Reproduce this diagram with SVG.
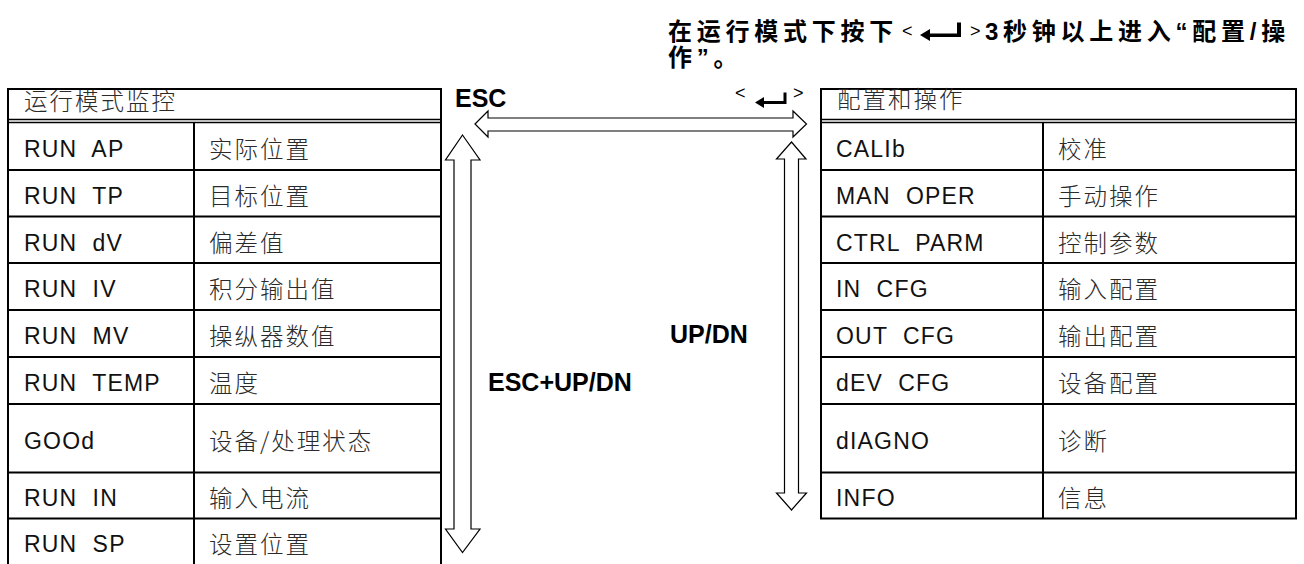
<svg xmlns="http://www.w3.org/2000/svg" width="1304" height="564" viewBox="0 0 1304 564">
<style>
  .t { font-family: "Liberation Sans", "Noto Sans CJK SC", sans-serif; font-size: 23px; letter-spacing: 1.2px; fill: #111; white-space: pre; }
  .c { font-family: "Noto Sans CJK SC", "Liberation Sans", sans-serif; font-size: 23.5px; letter-spacing: 2px; fill: #2a2a2a; font-weight: 300; }
  .b { font-family: "Liberation Sans", "Noto Sans CJK SC", sans-serif; font-size: 25px; font-weight: bold; fill: #000; }
  .bt { font-family: "Liberation Sans", "Noto Sans CJK SC", sans-serif; font-size: 24px; font-weight: bold; fill: #000; letter-spacing: 4.75px; }
  .sm { font-family: "Liberation Sans", sans-serif; font-size: 18px; font-weight: normal; fill: #000; letter-spacing: 0; }
  .key { fill: #000; stroke: none; }
  .ln { stroke: #000; stroke-width: 2; fill: none; }
  .dl { stroke: #000; stroke-width: 1.5; fill: none; }
  .arrow { fill: #fff; stroke: #000; stroke-width: 1.2; stroke-linejoin: miter; }
</style>

<g id="title">
  <text class="bt" x="668" y="40">在运行模式下按下</text>
  <text class="sm" x="902" y="37">&lt;</text>
  <path class="key" d="M920,35 L930,29 L930,33.5 L957,33.5 L957,22.5 L961,22.5 L961,37 L930,37 L930,41 Z"/>
  <text class="sm" x="970" y="37">&gt;</text>
  <text class="bt" x="985" y="40">3秒钟以上进入“配置/操</text>
  <text class="bt" x="668" y="66">作”。</text>
</g>

<g id="left-table">
  <rect class="ln" x="8" y="89" width="433" height="480"/>
  <line class="dl" x1="8" y1="119.5" x2="441" y2="119.5"/>
  <line class="dl" x1="8" y1="122.5" x2="441" y2="122.5"/>
  <line class="ln" x1="194" y1="122.5" x2="194" y2="569"/>
  <line class="ln" x1="8" y1="170" x2="441" y2="170"/>
  <line class="ln" x1="8" y1="216.5" x2="441" y2="216.5"/>
  <line class="ln" x1="8" y1="263" x2="441" y2="263"/>
  <line class="ln" x1="8" y1="310" x2="441" y2="310"/>
  <line class="ln" x1="8" y1="357" x2="441" y2="357"/>
  <line class="ln" x1="8" y1="404" x2="441" y2="404"/>
  <line class="ln" x1="8" y1="472.5" x2="441" y2="472.5"/>
  <line class="ln" x1="8" y1="518.5" x2="441" y2="518.5"/>
  <text class="c" x="24" y="110">运行模式监控</text>
  <text class="t" x="24" y="157">RUN  AP</text><text class="c" x="209" y="158">实际位置</text>
  <text class="t" x="24" y="204">RUN  TP</text><text class="c" x="209" y="205">目标位置</text>
  <text class="t" x="24" y="250.5">RUN  dV</text><text class="c" x="209" y="251.5">偏差值</text>
  <text class="t" x="24" y="297">RUN  IV</text><text class="c" x="209" y="298">积分输出值</text>
  <text class="t" x="24" y="344">RUN  MV</text><text class="c" x="209" y="345">操纵器数值</text>
  <text class="t" x="24" y="391">RUN  TEMP</text><text class="c" x="209" y="392">温度</text>
  <text class="t" x="24" y="449">GOOd</text><text class="c" x="209" y="450">设备/处理状态</text>
  <text class="t" x="24" y="506">RUN  IN</text><text class="c" x="209" y="507">输入电流</text>
  <text class="t" x="24" y="552">RUN  SP</text><text class="c" x="209" y="553">设置位置</text>
</g>

<g id="right-table">
  <rect class="ln" x="821" y="89" width="475" height="429.5"/>
  <line class="dl" x1="821" y1="119.5" x2="1296" y2="119.5"/>
  <line class="dl" x1="821" y1="122.5" x2="1296" y2="122.5"/>
  <line class="ln" x1="1043" y1="122.5" x2="1043" y2="518.5"/>
  <line class="ln" x1="821" y1="170" x2="1296" y2="170"/>
  <line class="ln" x1="821" y1="216.5" x2="1296" y2="216.5"/>
  <line class="ln" x1="821" y1="263" x2="1296" y2="263"/>
  <line class="ln" x1="821" y1="310" x2="1296" y2="310"/>
  <line class="ln" x1="821" y1="357" x2="1296" y2="357"/>
  <line class="ln" x1="821" y1="404" x2="1296" y2="404"/>
  <line class="ln" x1="821" y1="472.5" x2="1296" y2="472.5"/>
  <text class="c" x="837" y="108">配置和操作</text>
  <text class="t" x="836" y="157">CALIb</text><text class="c" x="1058" y="158">校准</text>
  <text class="t" x="836" y="204">MAN  OPER</text><text class="c" x="1058" y="205">手动操作</text>
  <text class="t" x="836" y="250.5">CTRL  PARM</text><text class="c" x="1058" y="251.5">控制参数</text>
  <text class="t" x="836" y="297">IN  CFG</text><text class="c" x="1058" y="298">输入配置</text>
  <text class="t" x="836" y="344">OUT  CFG</text><text class="c" x="1058" y="345">输出配置</text>
  <text class="t" x="836" y="391">dEV  CFG</text><text class="c" x="1058" y="392">设备配置</text>
  <text class="t" x="836" y="449">dIAGNO</text><text class="c" x="1058" y="450">诊断</text>
  <text class="t" x="836" y="506">INFO</text><text class="c" x="1058" y="507">信息</text>
</g>

<g id="connectors">
  <polygon class="arrow" points="475,124 488,111 488,118 793,118 793,111 806.5,124 793,137 793,131 488,131 488,137"/>
  <polygon class="arrow" points="462.5,135 480,160 471,160 471,529 480,529 462.5,552.5 445.5,529 454,529 454,160 445.5,160"/>
  <polygon class="arrow" points="791.5,142 806,159 798.5,159 798.5,493 806.5,493 791.5,510 776.5,493 784.5,493 784.5,159 776.5,159"/>
  <text class="b" x="455" y="106.5">ESC</text>
  <text class="sm" x="735" y="99">&lt;</text>
  <path class="key" d="M755,102.5 L764,97 L764,101 L783.5,101 L783.5,92.5 L786.5,92.5 L786.5,104 L764,104 L764,108 Z"/>
  <text class="sm" x="793" y="99">&gt;</text>
  <text class="b" x="670" y="343">UP/DN</text>
  <text class="b" x="488" y="390.5">ESC+UP/DN</text>
</g>
</svg>
